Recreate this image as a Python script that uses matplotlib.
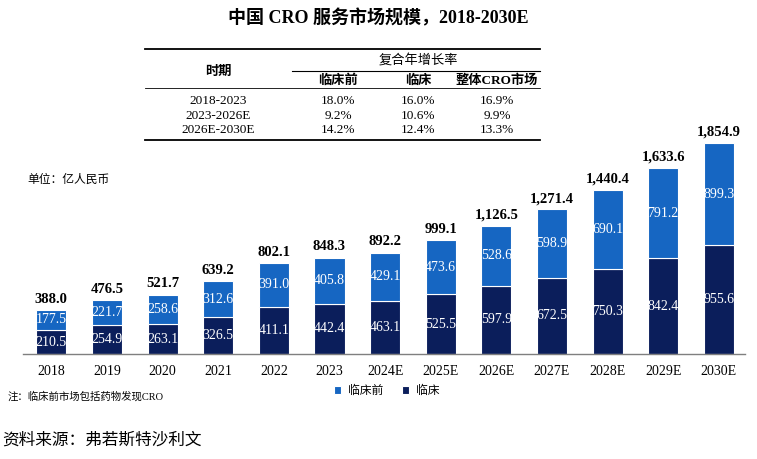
import matplotlib
matplotlib.use("Agg")
import matplotlib.pyplot as plt
from matplotlib.lines import Line2D

plt.rcParams['font.family'] = ['Liberation Serif', 'Noto Sans CJK SC', 'DejaVu Sans']

# data
years = ['2018', '2019', '2020', '2021', '2022', '2023', '2024E', '2025E',
         '2026E', '2027E', '2028E', '2029E', '2030E']
clinical = [210.5, 254.9, 263.1, 326.5, 411.1, 442.4, 463.1, 525.5,
            597.9, 672.5, 750.3, 842.4, 955.6]
preclinical = [177.5, 221.7, 258.6, 312.6, 391.0, 405.8, 429.1, 473.6,
               528.6, 598.9, 690.1, 791.2, 899.3]
totals = [388.0, 476.5, 521.7, 639.2, 802.1, 848.3, 892.2, 999.1,
          1126.5, 1271.4, 1440.4, 1633.6, 1854.9]

# CAGR table
periods = ['2018-2023', '2023-2026E', '2026E-2030E']
cagr_pre = ['18.0%', '9.2%', '14.2%']
cagr_clin = ['16.0%', '10.6%', '12.4%']
cagr_all = ['16.9%', '9.9%', '13.3%']

light_blue = '#1666c2'
navy = '#0b1e5b'

W, H = 757, 459
fig = plt.figure(figsize=(W / 100, H / 100), dpi=100)

def fx(px):
    return px / W

def fy(py):
    return 1 - py / H

ax = fig.add_axes([fx(23), fy(354), fx(722), (227.5) / H])
x = list(range(len(years)))
b1 = ax.bar(x, clinical, width=0.54, color=navy, edgecolor='white', linewidth=0.8, label='临床')
b2 = ax.bar(x, preclinical, width=0.54, bottom=clinical, color=light_blue,
            edgecolor='white', linewidth=0.8, label='临床前')

for i in x:
    ax.text(i, clinical[i] / 2, f'{clinical[i]:.1f}', ha='center', va='center',
            color='white', fontsize=10)
    ax.text(i, clinical[i] + preclinical[i] / 2, f'{preclinical[i]:.1f}', ha='center',
            va='center', color='white', fontsize=10)
    ax.annotate(f'{totals[i]:,.1f}', (i, clinical[i] + preclinical[i]), xytext=(0, 3),
                textcoords='offset points', ha='center', va='bottom',
                fontsize=10.5, fontweight='bold')

ax.set_xlim(-0.51, 12.47)
ax.set_ylim(0, 2000)
ax.set_xticks(x)
ax.set_xticklabels(years, fontsize=10)
ax.tick_params(axis='x', length=0, pad=8)
ax.set_yticks([])
for s in ['top', 'right', 'left']:
    ax.spines[s].set_visible(False)
ax.spines['bottom'].set_color('#7f7f7f')
ax.spines['bottom'].set_linewidth(1.0)

# title
fig.text(fx(378), fy(18), '中国 CRO 服务市场规模，2018-2030E', ha='center', va='center',
         fontsize=13, fontweight='bold')

# table
def hline(x0, x1, y, lw):
    fig.add_artist(Line2D([fx(x0), fx(x1)], [fy(y), fy(y)], color='black', linewidth=lw))

hline(145, 540, 49, 1.3)
hline(292, 540, 70.5, 0.8)
hline(145, 540, 88, 0.6)
hline(145, 540, 140, 1.3)

col_x = [218, 338, 418, 497]
fig.text(fx(218), fy(72), '时期', ha='center', va='center', fontsize=9.5, fontweight='bold')
fig.text(fx(418), fy(61), '复合年增长率', ha='center', va='center', fontsize=9.5)
for cx, h in zip(col_x[1:], ['临床前', '临床', '整体CRO市场']):
    fig.text(fx(cx), fy(80.5), h, ha='center', va='center', fontsize=9.5, fontweight='bold')
row_y = [101, 116, 130]
for ry, p, a, b, c in zip(row_y, periods, cagr_pre, cagr_clin, cagr_all):
    for cx, v in zip(col_x, [p, a, b, c]):
        fig.text(fx(cx), fy(ry), v, ha='center', va='center', fontsize=9.5)

fig.text(fx(27), fy(180), '单位：亿人民币', ha='left', va='center', fontsize=8.5)
fig.text(fx(8), fy(396), '注：临床前市场包括药物发现CRO', ha='left', va='center', fontsize=7.5)
fig.text(fx(2), fy(440), '资料来源：弗若斯特沙利文', ha='left', va='center', fontsize=12,
         family=['Noto Sans CJK SC'])

fig.legend(handles=[b2, b1], labels=['临床前', '临床'], loc='center left',
           bbox_to_anchor=(fx(323), fy(391)), ncol=2, frameon=False, fontsize=8.5,
           handlelength=0.6, handleheight=0.6, columnspacing=1.6, handletextpad=0.6)

fig.savefig('out.png', dpi=100, facecolor='white')
